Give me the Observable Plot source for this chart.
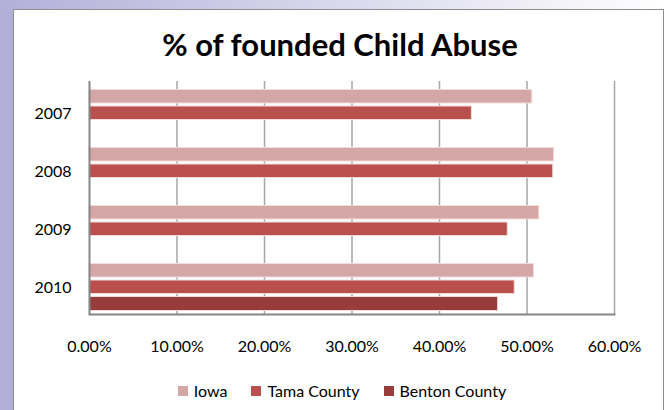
<!DOCTYPE html>
<html><head><meta charset="utf-8">
<script src="https://cdn.jsdelivr.net/npm/d3@7"></script>
<script src="https://cdn.jsdelivr.net/npm/@observablehq/plot@0.6"></script>
<style>
body{margin:0;width:666px;height:410px;overflow:hidden;background:#fff;position:relative;font-family:Lato,sans-serif;}
#strip-left{position:absolute;left:0;top:0;width:14px;height:410px;background:#b2b0d9;}
#strip-top{position:absolute;left:0;top:0;width:666px;height:10px;background:linear-gradient(to right,#b2b0d9,#ffffff);}
#box{position:absolute;left:13px;top:9px;width:649px;height:420px;border:1px solid #8e8e8e;background:#fff;}
#title{position:absolute;left:7px;top:25px;width:666px;text-align:center;font-weight:700;font-size:31px;color:#000;line-height:38px;}
#chart{position:absolute;left:0;top:0;}
#legend{position:absolute;top:381px;left:9px;width:666px;display:flex;justify-content:center;font-size:16px;color:#000;line-height:20px;}
.item{display:flex;align-items:center;margin:0 12px;}
.sw{width:10px;height:10px;margin-right:6px;}
</style></head>
<body>
<div id="strip-left"></div><div id="strip-top"></div>
<div id="box"></div>
<div id="title">% of founded Child Abuse</div>
<div id="chart"></div>
<div id="legend"></div>
<script>
const years = ["2007", "2008", "2009", "2010"];
const iowa = [0.506, 0.531, 0.514, 0.508];
const tama = [0.437, 0.530, 0.478, 0.486];
const benton = [null, null, null, 0.467];
const seriesNames = ["Iowa", "Tama County", "Benton County"];
const seriesColors = ["#D5A6A6", "#B9504D", "#963C3B"];
const xTicks = [0, 0.1, 0.2, 0.3, 0.4, 0.5, 0.6];

const rows = years.map((year, i) => ({year, iowa: iowa[i], tama: tama[i], benton: benton[i]}));

const chart = Plot.plot({
  width: 666, height: 370,
  marginTop: 81, marginBottom: 56, marginLeft: 89, marginRight: 52,
  style: {background: "transparent", fontFamily: "Lato, sans-serif", fontSize: "16px", color: "#000", overflow: "visible"},
  x: {domain: [0, 0.6], label: null},
  y: {domain: years, padding: 0, label: null},
  marks: [
    Plot.ruleX(xTicks.slice(1), {stroke: "#a6a6a6", strokeWidth: 1.5}),
    Plot.barX(rows, {x: "iowa", y: "year", fill: seriesColors[0], stroke: "#F2DCDB", strokeWidth: 1, insetTop: 7.5, insetBottom: 37}),
    Plot.barX(rows, {x: "tama", y: "year", fill: seriesColors[1], stroke: "#F2DCDB", strokeWidth: 1, insetTop: 24, insetBottom: 20.5}),
    Plot.barX(rows.filter(d => d.benton != null), {x: "benton", y: "year", fill: seriesColors[2], stroke: "#F2DCDB", strokeWidth: 1, insetTop: 40.5, insetBottom: 3.5}),
    Plot.ruleX([0], {stroke: "#868686", strokeWidth: 2}),
    Plot.frame({anchor: "bottom", stroke: "#868686", strokeWidth: 2}),
    Plot.axisX({ticks: xTicks, tickFormat: d3.format(".2%"), tickSize: 0, tickPadding: 26, fill: "#000"}),
    Plot.axisY({tickSize: 0, tickPadding: 18, fill: "#000", dy: 2})
  ]
});
document.getElementById("chart").appendChild(chart);

const legend = document.getElementById("legend");
seriesNames.forEach((name, i) => {
  const item = document.createElement("div");
  item.className = "item";
  item.innerHTML = `<span class="sw" style="background:${seriesColors[i]}"></span><span>${name}</span>`;
  legend.appendChild(item);
});
</script>
</body></html>
